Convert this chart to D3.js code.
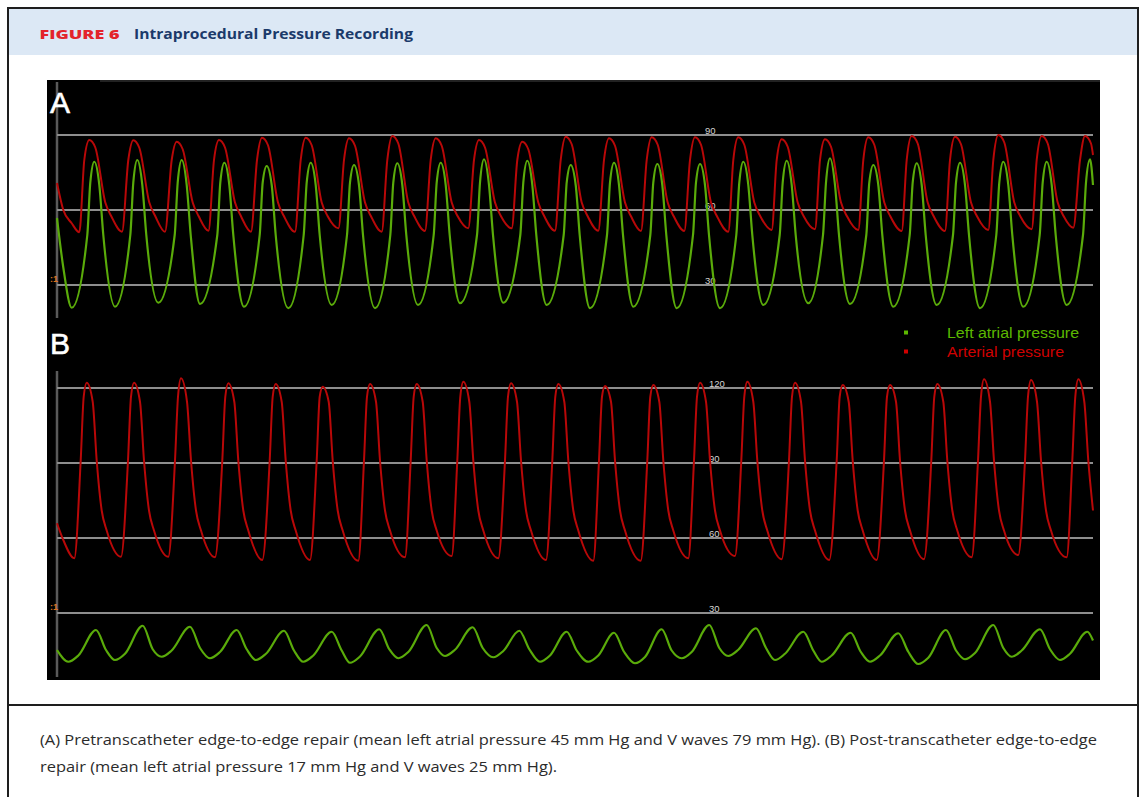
<!DOCTYPE html>
<html>
<head>
<meta charset="utf-8">
<script src="https://cdn.jsdelivr.net/npm/d3@7"></script>
<style>
  body { margin: 0; background: #fff; }
  svg { display: block; }
</style>
</head>
<body>
<div id="chart"></div>
<script>
// time in seconds, pressure in mm Hg
const ticksA = [30, 60, 90];
const ticksB = [30, 60, 90, 120];

// panel A: pre TEER
const arterialA = [
  [0, 70.8], [0.063, 60], [0.147, 54.7],
  [0.223, 51.1], [0.273, 80], [0.323, 88.0], [0.383, 85.0], [0.483, 63], [0.543, 57.5],
  [0.650, 51.3], [0.713, 80], [0.763, 87.9], [0.823, 84.9], [0.923, 63], [0.983, 57.5],
  [1.080, 51.3], [1.147, 80], [1.197, 87.3], [1.257, 84.3], [1.357, 63], [1.417, 57.5],
  [1.515, 51.7], [1.570, 80], [1.620, 88.0], [1.680, 85.0], [1.780, 63], [1.840, 57.5],
  [1.940, 51.3], [2.000, 80], [2.050, 88.9], [2.110, 85.9], [2.210, 63], [2.270, 57.5],
  [2.380, 51.3], [2.437, 80], [2.487, 88.9], [2.547, 85.9], [2.647, 63], [2.707, 57.5],
  [2.815, 52.7], [2.870, 80], [2.920, 88.7], [2.980, 85.7], [3.080, 63], [3.140, 57.5],
  [3.247, 51.3], [3.303, 80], [3.353, 89.6], [3.413, 86.6], [3.513, 63], [3.573, 57.5],
  [3.680, 51.6], [3.737, 80], [3.787, 88.7], [3.847, 85.7], [3.947, 63], [4.007, 57.5],
  [4.113, 52.7], [4.170, 80], [4.220, 88.0], [4.280, 85.0], [4.380, 63], [4.440, 57.5],
  [4.547, 52.7], [4.603, 80], [4.653, 87.3], [4.713, 84.3], [4.813, 63], [4.873, 57.5],
  [4.980, 51.7], [5.037, 80], [5.087, 89.3], [5.147, 86.3], [5.247, 63], [5.307, 57.5],
  [5.413, 51.7], [5.470, 80], [5.520, 88.7], [5.580, 85.7], [5.680, 63], [5.740, 57.5],
  [5.840, 51.6], [5.897, 80], [5.947, 89.1], [6.007, 86.1], [6.107, 63], [6.167, 57.5],
  [6.273, 51.6], [6.330, 80], [6.380, 89.1], [6.440, 86.1], [6.540, 63], [6.600, 57.5],
  [6.713, 51.3], [6.763, 80], [6.813, 89.1], [6.873, 86.1], [6.973, 63], [7.033, 57.5],
  [7.147, 52.0], [7.197, 80], [7.247, 88.3], [7.307, 85.3], [7.407, 63], [7.467, 57.5],
  [7.580, 52.3], [7.630, 80], [7.680, 88.3], [7.740, 85.3], [7.840, 63], [7.900, 57.5],
  [8.013, 52.0], [8.063, 80], [8.113, 89.1], [8.173, 86.1], [8.273, 63], [8.333, 57.5],
  [8.447, 51.6], [8.497, 80], [8.547, 89.6], [8.607, 86.6], [8.707, 63], [8.767, 57.5],
  [8.880, 51.6], [8.930, 80], [8.980, 89.3], [9.040, 86.3], [9.140, 63], [9.200, 57.5],
  [9.313, 52.0], [9.363, 80], [9.413, 90.0], [9.473, 87.0], [9.573, 63], [9.633, 57.5],
  [9.747, 52.3], [9.797, 80], [9.847, 89.6], [9.907, 86.6], [10.007, 63], [10.067, 57.5],
  [10.163, 52.9], [10.230, 80], [10.280, 89.6], [10.340, 86.6], [10.360, 82]
];

const atrialA = [
  [0, 56.8], [0.063, 37],
  [0.147, 20.9], [0.303, 50], [0.333, 71], [0.373, 79.3], [0.423, 70], [0.463, 50],
  [0.580, 21.3], [0.733, 50], [0.763, 71], [0.803, 80.0], [0.853, 70], [0.893, 50],
  [1.013, 22.9], [1.177, 50], [1.207, 71], [1.247, 80.0], [1.297, 70], [1.337, 50],
  [1.430, 22.4], [1.603, 50], [1.633, 71], [1.673, 78.9], [1.723, 70], [1.763, 50],
  [1.870, 21.3], [2.027, 50], [2.057, 71], [2.097, 77.6], [2.147, 70], [2.187, 50],
  [2.313, 20.7], [2.467, 50], [2.497, 71], [2.537, 78.9], [2.587, 70], [2.627, 50],
  [2.747, 22.0], [2.900, 50], [2.930, 71], [2.970, 78.0], [3.020, 70], [3.060, 50],
  [3.180, 20.7], [3.333, 50], [3.363, 71], [3.403, 78.7], [3.453, 70], [3.493, 50],
  [3.610, 22.0], [3.767, 50], [3.797, 71], [3.837, 78.9], [3.887, 70], [3.927, 50],
  [4.030, 22.7], [4.200, 50], [4.230, 71], [4.270, 80.3], [4.320, 70], [4.360, 50],
  [4.463, 22.9], [4.633, 50], [4.663, 71], [4.703, 79.7], [4.753, 70], [4.793, 50],
  [4.897, 22.0], [5.067, 50], [5.097, 71], [5.137, 78.0], [5.187, 70], [5.227, 50],
  [5.330, 20.7], [5.500, 50], [5.530, 71], [5.570, 78.9], [5.620, 70], [5.660, 50],
  [5.763, 21.3], [5.933, 50], [5.963, 71], [6.003, 78.4], [6.053, 70], [6.093, 50],
  [6.197, 20.7], [6.360, 50], [6.390, 71], [6.430, 78.4], [6.480, 70], [6.520, 50],
  [6.630, 20.7], [6.793, 50], [6.823, 71], [6.863, 79.3], [6.913, 70], [6.953, 50],
  [7.063, 22.0], [7.227, 50], [7.257, 71], [7.297, 79.7], [7.347, 70], [7.387, 50],
  [7.513, 22.7], [7.660, 50], [7.690, 71], [7.730, 80.7], [7.780, 70], [7.820, 50],
  [7.930, 22.4], [8.093, 50], [8.123, 71], [8.163, 78.0], [8.213, 70], [8.253, 50],
  [8.363, 21.3], [8.527, 50], [8.557, 71], [8.597, 78.7], [8.647, 70], [8.687, 50],
  [8.797, 22.0], [8.960, 50], [8.990, 71], [9.030, 78.9], [9.080, 70], [9.120, 50],
  [9.230, 20.7], [9.393, 50], [9.423, 71], [9.463, 79.3], [9.513, 70], [9.553, 50],
  [9.663, 21.3], [9.827, 50], [9.857, 71], [9.897, 79.3], [9.947, 70], [9.987, 50],
  [10.097, 22.0], [10.260, 50], [10.290, 71], [10.330, 80.3], [10.360, 70]
];

// panel B: post TEER
const arterialB = [
  [0, 65.9], [0.063, 59.2],
  [0.173, 51.9], [0.237, 91], [0.267, 116.5], [0.297, 122.1], [0.357, 114.5], [0.397, 91], [0.447, 71], [0.497, 63],
  [0.640, 52.5], [0.710, 91], [0.740, 116.5], [0.770, 122.1], [0.830, 114.5], [0.870, 91], [0.920, 71], [0.970, 63],
  [1.113, 52.5], [1.180, 91], [1.210, 116.5], [1.240, 123.9], [1.300, 114.5], [1.340, 91], [1.390, 71], [1.440, 63],
  [1.580, 52.3], [1.653, 91], [1.683, 116.5], [1.713, 121.9], [1.773, 114.5], [1.813, 91], [1.863, 71], [1.913, 63],
  [2.053, 51.2], [2.127, 91], [2.157, 116.5], [2.187, 121.6], [2.247, 114.5], [2.287, 91], [2.337, 71], [2.387, 63],
  [2.530, 51.2], [2.597, 91], [2.627, 116.5], [2.657, 120.5], [2.717, 114.5], [2.757, 91], [2.807, 71], [2.857, 63],
  [3.013, 50.9], [3.070, 91], [3.100, 116.5], [3.130, 121.6], [3.190, 114.5], [3.230, 91], [3.280, 71], [3.330, 63],
  [3.480, 52.3], [3.537, 91], [3.567, 116.5], [3.597, 121.6], [3.657, 114.5], [3.697, 91], [3.747, 71], [3.797, 63],
  [3.947, 52.8], [4.003, 91], [4.033, 116.5], [4.063, 122.5], [4.123, 114.5], [4.163, 91], [4.213, 71], [4.263, 63],
  [4.413, 51.9], [4.480, 91], [4.510, 116.5], [4.540, 121.9], [4.600, 114.5], [4.640, 91], [4.690, 71], [4.740, 63],
  [4.890, 51.2], [4.953, 91], [4.983, 116.5], [5.013, 121.6], [5.073, 114.5], [5.113, 91], [5.163, 71], [5.213, 63],
  [5.363, 50.9], [5.420, 91], [5.450, 116.5], [5.480, 120.8], [5.540, 114.5], [5.580, 91], [5.630, 71], [5.680, 63],
  [5.837, 50.9], [5.903, 91], [5.933, 116.5], [5.963, 121.2], [6.023, 114.5], [6.063, 91], [6.113, 71], [6.163, 63],
  [6.313, 51.9], [6.370, 91], [6.400, 116.5], [6.430, 122.1], [6.490, 114.5], [6.530, 91], [6.580, 71], [6.630, 63],
  [6.780, 52.8], [6.843, 91], [6.873, 116.5], [6.903, 122.5], [6.963, 114.5], [7.003, 91], [7.053, 71], [7.103, 63],
  [7.247, 51.5], [7.320, 91], [7.350, 116.5], [7.380, 122.1], [7.440, 114.5], [7.480, 91], [7.530, 71], [7.580, 63],
  [7.723, 51.2], [7.797, 91], [7.827, 116.5], [7.857, 121.2], [7.917, 114.5], [7.957, 91], [8.007, 71], [8.057, 63],
  [8.197, 51.2], [8.270, 91], [8.300, 116.5], [8.330, 121.2], [8.390, 114.5], [8.430, 91], [8.480, 71], [8.530, 63],
  [8.670, 51.5], [8.743, 91], [8.773, 116.5], [8.803, 121.6], [8.863, 114.5], [8.903, 91], [8.953, 71], [9.003, 63],
  [9.147, 52.3], [9.210, 91], [9.240, 116.5], [9.270, 123.5], [9.330, 114.5], [9.370, 91], [9.420, 71], [9.470, 63],
  [9.613, 53.2], [9.680, 91], [9.710, 116.5], [9.740, 123.2], [9.800, 114.5], [9.840, 91], [9.890, 71], [9.940, 63],
  [10.097, 52.3], [10.153, 91], [10.183, 116.5], [10.213, 123.5], [10.273, 114.5], [10.313, 91], [10.360, 71]
];

const atrialB = [
  [0, 15.2],
  [0.113, 10.5], [0.213, 13.0], [0.390, 23.2], [0.490, 15.2],
  [0.580, 11.2], [0.680, 13.7], [0.857, 24.9], [0.957, 15.5],
  [1.047, 12.5], [1.147, 15.0], [1.330, 24.5], [1.430, 16.0],
  [1.530, 11.9], [1.630, 14.4], [1.797, 23.2], [1.897, 15.5],
  [1.990, 11.2], [2.090, 13.7], [2.270, 22.9], [2.370, 15.0],
  [2.463, 10.5], [2.563, 13.0], [2.747, 22.5], [2.847, 15.0],
  [2.930, 10.1], [3.030, 12.6], [3.223, 23.5], [3.323, 15.5],
  [3.413, 11.9], [3.513, 14.4], [3.697, 25.2], [3.797, 16.0],
  [3.880, 12.8], [3.980, 15.3], [4.157, 24.3], [4.257, 16.0],
  [4.363, 12.3], [4.463, 14.8], [4.623, 22.9], [4.723, 15.5],
  [4.830, 10.5], [4.930, 13.0], [5.097, 22.5], [5.197, 15.0],
  [5.313, 10.5], [5.413, 13.0], [5.570, 22.1], [5.670, 14.5],
  [5.780, 9.9], [5.880, 12.4], [6.047, 23.5], [6.147, 15.0],
  [6.247, 11.9], [6.347, 14.4], [6.523, 25.2], [6.623, 16.0],
  [6.713, 12.8], [6.813, 15.3], [6.990, 23.9], [7.090, 16.0],
  [7.180, 11.2], [7.280, 13.7], [7.463, 22.5], [7.563, 15.0],
  [7.647, 10.5], [7.747, 13.0], [7.937, 22.1], [8.037, 14.5],
  [8.130, 10.5], [8.230, 13.0], [8.413, 21.9], [8.513, 14.5],
  [8.613, 9.6], [8.713, 12.1], [8.890, 23.2], [8.990, 15.0],
  [9.080, 11.5], [9.180, 14.0], [9.363, 25.2], [9.463, 16.0],
  [9.547, 12.5], [9.647, 15.0], [9.830, 23.5], [9.930, 15.5],
  [10.030, 11.2], [10.130, 13.7], [10.303, 22.5], [10.360, 19.0]
];

const legendLabels = ["Left atrial pressure", "Arterial pressure"];
const captionLines = [
  "(A) Pretranscatheter edge-to-edge repair (mean left atrial pressure 45 mm Hg and V waves 79 mm Hg). (B) Post-transcatheter edge-to-edge",
  "repair (mean left atrial pressure 17 mm Hg and V waves 25 mm Hg)."
];

const W = 1142, H = 797;
const RED = "#b80808", GREEN = "#5aab0a";

const svg = d3.select("#chart").append("svg")
  .attr("width", W).attr("height", H);

// frame + header
svg.append("rect").attr("x", 8).attr("y", 8).attr("width", 1130).attr("height", 47)
  .attr("fill", "#dce8f5");
svg.append("path")
  .attr("d", "M8,797 V8 H1138 V797 M8,705 H1138")
  .attr("fill", "none").attr("stroke", "#1e1e1e").attr("stroke-width", 2);

svg.append("text").attr("x", 39.5).attr("y", 38.5)
  .attr("font-family", "'Open Sans', sans-serif").attr("font-weight", 800)
  .attr("font-size", 13).attr("fill", "#e3242b")
  .attr("textLength", 80).attr("lengthAdjust", "spacingAndGlyphs")
  .text("FIGURE 6");
svg.append("text").attr("x", 134).attr("y", 38.5)
  .attr("font-family", "'Open Sans', sans-serif").attr("font-weight", 700)
  .attr("font-size", 15).attr("fill", "#1b3a6a")
  .attr("textLength", 279).attr("lengthAdjust", "spacingAndGlyphs")
  .text("Intraprocedural Pressure Recording");

// monitor screen
svg.append("rect").attr("x", 47).attr("y", 80).attr("width", 1053).attr("height", 600)
  .attr("fill", "#000");
svg.append("line").attr("x1", 100).attr("x2", 1100).attr("y1", 81).attr("y2", 81)
  .attr("stroke", "#2e2e2e").attr("stroke-width", 1.5);

const x = d3.scaleLinear().domain([0, 10.36]).range([57, 1093]);
const yA = d3.scaleLinear().domain([30, 90]).range([285, 135]);
const yB = d3.scaleLinear().domain([30, 120]).range([613, 388]);

function drawPanel(y, ticks, labelX, axisTop, axisBottom, markY) {
  const g = svg.append("g");
  g.append("line").attr("x1", 57).attr("x2", 57).attr("y1", axisTop).attr("y2", axisBottom)
    .attr("stroke", "#5a5a5a").attr("stroke-width", 2.5);
  g.selectAll(".grid").data(ticks).join("line")
    .attr("class", "grid")
    .attr("x1", x(0)).attr("x2", x.range()[1])
    .attr("y1", d => y(d)).attr("y2", d => y(d))
    .attr("stroke", "#8e8e8e").attr("stroke-width", 2);
  g.selectAll(".tick").data(ticks).join("text")
    .attr("class", "tick")
    .attr("x", labelX).attr("y", d => y(d) - 1)
    .attr("font-family", "'Liberation Sans', Arial, sans-serif").attr("font-size", 9.5)
    .attr("fill", "#d4d4d4")
    .text(d => d);
  g.append("text").attr("x", 50).attr("y", markY)
    .attr("font-family", "'Liberation Sans', Arial, sans-serif").attr("font-size", 9)
    .attr("font-weight", 700).attr("fill", "#d9731f")
    .text(":1");
  return g;
}

function trace(g, data, y, color, w) {
  const line = d3.line()
    .x(d => x(d[0]))
    .y(d => y(d[1]))
    .curve(d3.curveMonotoneX);
  g.append("path").datum(data)
    .attr("d", line)
    .attr("fill", "none").attr("stroke", color)
    .attr("stroke-width", w).attr("stroke-linejoin", "round");
}

const gA = drawPanel(yA, ticksA, 705, 82, 318, 282);
trace(gA, arterialA, yA, RED, 2);
trace(gA, atrialA, yA, GREEN, 2.2);

const gB = drawPanel(yB, ticksB, 709, 371, 677, 610);
trace(gB, arterialB, yB, RED, 2);
trace(gB, atrialB, yB, GREEN, 2.2);

// panel letters
[["A", 113], ["B", 354]].forEach(([t, yy]) => {
  svg.append("text").attr("x", 50).attr("y", yy)
    .attr("font-family", "'Liberation Sans', Arial, sans-serif").attr("font-size", 30)
    .attr("fill", "#fff").attr("stroke", "#fff").attr("stroke-width", 0.6)
    .text(t);
});

// legend
const legend = svg.append("g");
[[GREEN, "#5cb800", 330.5, 337.5, 132], [RED, "#cf0000", 349.5, 357, 117]].forEach((c, i) => {
  legend.append("rect").attr("x", 904).attr("y", c[2]).attr("width", 4).attr("height", 4)
    .attr("fill", c[1]);
  legend.append("text").attr("x", 947).attr("y", c[3])
    .attr("font-family", "'Liberation Sans', Arial, sans-serif").attr("font-size", 14)
    .attr("fill", c[1])
    .attr("textLength", c[4]).attr("lengthAdjust", "spacingAndGlyphs")
    .text(legendLabels[i]);
});

// caption
svg.selectAll(".caption").data(captionLines).join("text")
  .attr("class", "caption")
  .attr("x", 40).attr("y", (d, i) => 745 + i * 27)
  .attr("font-family", "'Open Sans', sans-serif").attr("font-size", 15)
  .attr("fill", "#2b2b2b")
  .attr("textLength", (d, i) => i === 0 ? 1057 : 517)
  .attr("lengthAdjust", "spacingAndGlyphs")
  .text(d => d);
</script>
</body>
</html>
